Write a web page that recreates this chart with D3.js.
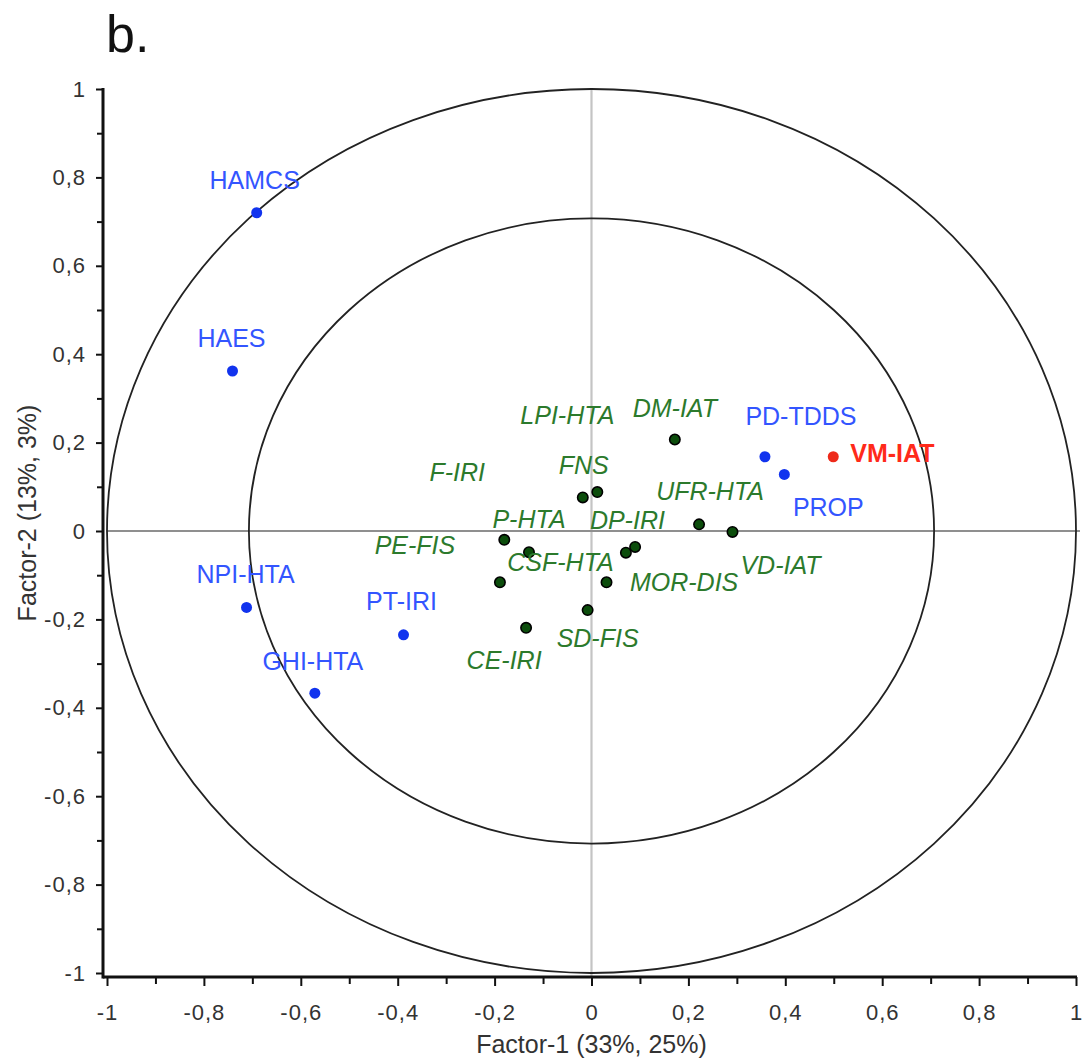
<!DOCTYPE html>
<html>
<head>
<meta charset="utf-8">
<script src="https://cdn.jsdelivr.net/npm/d3@7"></script>
<style>
  html, body { margin: 0; padding: 0; background: #fff; }
  svg { display: block; font-family: "Liberation Sans", Arial, sans-serif; }
</style>
</head>
<body>
<svg id="chart" width="1085" height="1063"></svg>
<script>
// Variable names and their loadings on the first two factors
const varNames = [
  "HAMCS", "HAES", "PD-TDDS", "PROP", "NPI-HTA", "PT-IRI", "GHI-HTA", "VM-IAT",
  "DM-IAT", "FNS", "LPI-HTA", "UFR-HTA", "VD-IAT", "F-IRI", "P-HTA", "DP-IRI",
  "MOR-DIS", "PE-FIS", "CSF-HTA", "SD-FIS", "CE-IRI"
];
const factor1 = [
  -0.691, -0.741, 0.358, 0.398, -0.712, -0.388, -0.571, 0.499,
  0.172, -0.018, 0.012, 0.222, 0.291, -0.180, -0.129, 0.071,
  0.090, -0.189, 0.031, -0.008, -0.135
];
const factor2 = [
  0.720, 0.362, 0.168, 0.128, -0.173, -0.235, -0.367, 0.168,
  0.207, 0.076, 0.088, 0.015, -0.002, -0.020, -0.048, -0.049,
  -0.036, -0.116, -0.116, -0.179, -0.219
];
// "active" = blue, "target" = red, "supp" = green italic
const varGroup = [
  "active", "active", "active", "active", "active", "active", "active", "target",
  "supp", "supp", "supp", "supp", "supp", "supp", "supp", "supp",
  "supp", "supp", "supp", "supp", "supp"
];

// Axis ticks
const majorTicks = [-1, -0.8, -0.6, -0.4, -0.2, 0, 0.2, 0.4, 0.6, 0.8, 1];
const minorTicks = [-0.9, -0.7, -0.5, -0.3, -0.1, 0.1, 0.3, 0.5, 0.7, 0.9];
const circleRadii = [1, Math.SQRT1_2];

const xTitle = "Factor-1 (33%, 25%)";
const yTitle = "Factor-2 (13%, 3%)";
const panelTag = "b.";

// Label placement (pixel offsets from the point: to text centre / baseline)
const labelShift = [
  [-2, -24], [-1, -24], [36, -32], [44, 42], [-1, -24], [-2, -25], [-2, -23], [17, 5],
  [0, -23], [1, -23], [-30, -68], [11, -24], [48, 42], [-47, -59], [0, -24], [1.5, -24],
  [49, 44], [-85, -28], [-46, -11], [10, 37], [-22, 41]
];

const style = {
  active: { dot: "#1133ee", stroke: "none", text: "#3355ff", italic: false, bold: false },
  target: { dot: "#ee2a1a", stroke: "none", text: "#ff2a1a", italic: false, bold: true },
  supp:   { dot: "#0c4d0c", stroke: "#000", text: "#2c7a2c", italic: true, bold: false }
};

const svg = d3.select("#chart");

const x = d3.scaleLinear().domain([-1, 1]).range([107, 1076]);
const y = d3.scaleLinear().domain([-1, 1]).range([973, 89]);

const loc = d3.formatLocale({ decimal: ",", thousands: ".", grouping: [3], currency: ["", ""], minus: "-" });
const fmt = v => Math.abs(v) < 1e-9 ? "0" : loc.format("~g")(+v.toFixed(1));

// Reference lines through the origin
svg.append("line")
  .attr("x1", x(0)).attr("x2", x(0))
  .attr("y1", y(1)).attr("y2", 977)
  .attr("stroke", "#c4c4c4").attr("stroke-width", 2.2);
svg.append("line")
  .attr("x1", x(-1)).attr("x2", x(1) + 4)
  .attr("y1", y(0)).attr("y2", y(0))
  .attr("stroke", "#8f8f8f").attr("stroke-width", 2);

// Correlation circles
svg.selectAll("ellipse.circ")
  .data(circleRadii)
  .join("ellipse")
  .attr("class", "circ")
  .attr("cx", x(0)).attr("cy", y(0))
  .attr("rx", r => x(r) - x(0))
  .attr("ry", r => y(0) - y(r))
  .attr("fill", "none")
  .attr("stroke", "#222")
  .attr("stroke-width", 1.8);

// Axes
const xAxisY = 977, yAxisX = 103;
const tickFont = 22;

function styleAxis(g) {
  g.select(".domain").remove();
  g.selectAll(".tick line").attr("stroke", "#111").attr("stroke-width", 2);
  g.selectAll(".tick text")
    .attr("fill", "#333")
    .style("font-size", tickFont + "px")
    .style("letter-spacing", "1px")
    .style("font-family", "'Liberation Sans', Arial, sans-serif");
}

// minor ticks (unlabelled)
styleAxis(svg.append("g")
  .attr("transform", `translate(0,${xAxisY})`)
  .call(d3.axisBottom(x).tickValues(minorTicks).tickSize(7).tickFormat("")));
styleAxis(svg.append("g")
  .attr("transform", `translate(${yAxisX},0)`)
  .call(d3.axisLeft(y).tickValues(minorTicks).tickSize(6).tickFormat("")));

// major ticks with labels
styleAxis(svg.append("g")
  .attr("transform", `translate(0,${xAxisY})`)
  .call(d3.axisBottom(x).tickValues(majorTicks).tickSize(9).tickPadding(18).tickFormat(fmt)));
styleAxis(svg.append("g")
  .attr("transform", `translate(${yAxisX},0)`)
  .call(d3.axisLeft(y).tickValues(majorTicks).tickSize(7).tickPadding(10).tickFormat(fmt)));

// Axis lines
svg.append("line")
  .attr("x1", yAxisX).attr("x2", x(1) + 1)
  .attr("y1", xAxisY).attr("y2", xAxisY)
  .attr("stroke", "#111").attr("stroke-width", 3);
svg.append("line")
  .attr("x1", yAxisX).attr("x2", yAxisX)
  .attr("y1", y(1) - 1).attr("y2", xAxisY + 1.5)
  .attr("stroke", "#111").attr("stroke-width", 3);

// Axis titles
svg.append("text")
  .attr("x", x(0)).attr("y", 1053)
  .attr("text-anchor", "middle")
  .attr("fill", "#333")
  .style("font-size", "25px")
  .text(xTitle);
svg.append("text")
  .attr("transform", `translate(36,513) rotate(-90)`)
  .attr("text-anchor", "middle")
  .attr("fill", "#333")
  .style("font-size", "25px")
  .text(yTitle);

// Panel tag
svg.append("text")
  .attr("x", 106).attr("y", 52)
  .attr("fill", "#111")
  .style("font-size", "52px")
  .text(panelTag);

// Points and labels
const rows = varNames.map((name, i) => ({
  name, f1: factor1[i], f2: factor2[i], group: varGroup[i], shift: labelShift[i]
}));

svg.append("g").selectAll("circle")
  .data(rows)
  .join("circle")
  .attr("cx", d => x(d.f1))
  .attr("cy", d => y(d.f2))
  .attr("r", d => d.group === "supp" ? 5.2 : 5.5)
  .attr("fill", d => style[d.group].dot)
  .attr("stroke", d => style[d.group].stroke)
  .attr("stroke-width", 1.6);

svg.append("g").selectAll("text")
  .data(rows)
  .join("text")
  .attr("x", d => x(d.f1) + d.shift[0])
  .attr("y", d => y(d.f2) + d.shift[1])
  .attr("text-anchor", d => d.group === "target" ? "start" : "middle")
  .attr("fill", d => style[d.group].text)
  .style("font-size", "25px")
  .style("font-style", d => style[d.group].italic ? "italic" : "normal")
  .style("font-weight", d => style[d.group].bold ? "bold" : "normal")
  .text(d => d.name);
</script>
</body>
</html>
